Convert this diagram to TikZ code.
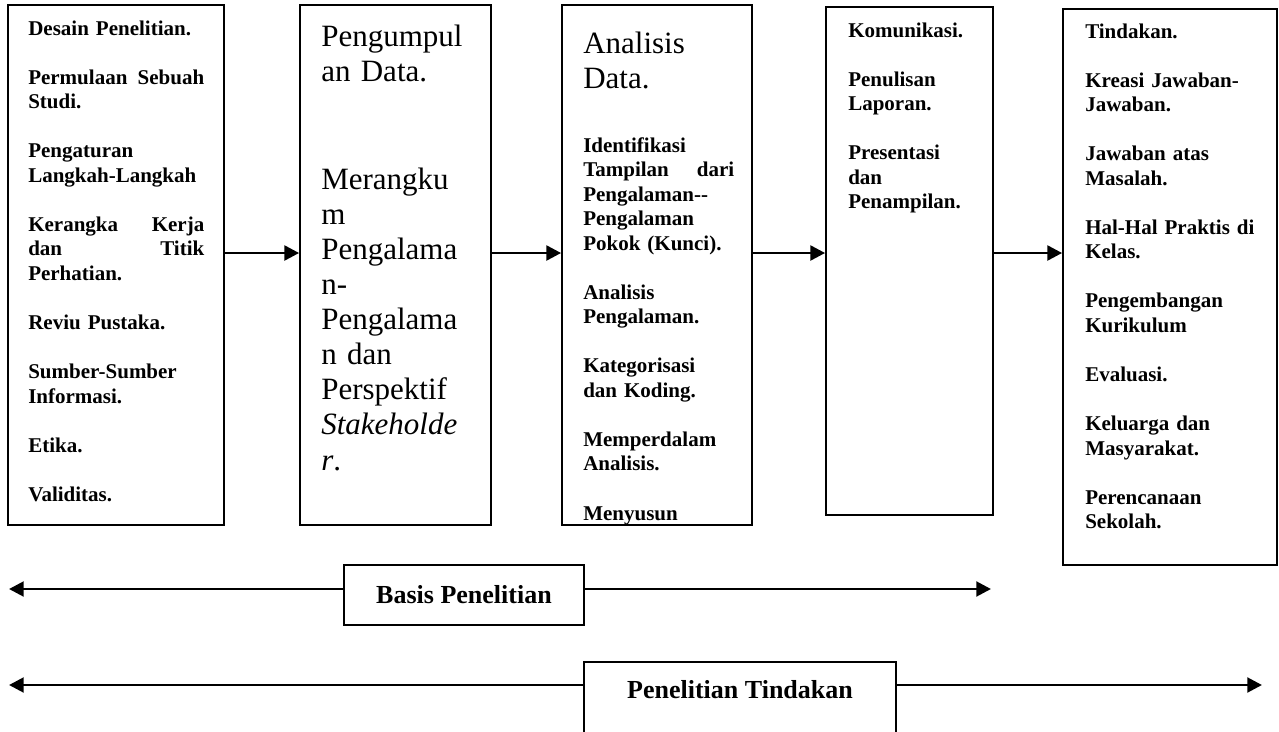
\documentclass[tikz,border=0pt]{standalone}
\usepackage{fontspec}
\setmainfont{Liberation Serif}
\usetikzlibrary{arrows.meta,fit}
% stretch a line to the full text width
\newcommand\jf{\hspace{0pt plus 1filll}}
% an empty line between two items
\newcommand\gap{\\[\baselineskip]}
\begin{document}
\begin{tikzpicture}[x=0.75pt,y=-0.75pt,
  panel/.style={draw, line width=1.3pt, inner sep=0pt},
  listtext/.style={anchor=base west, inner sep=0pt, align=left,
    font=\fontsize{15.75pt}{18.4pt}\selectfont\bfseries},
  headtext/.style={anchor=base west, inner sep=0pt, align=left,
    font=\fontsize{23.25pt}{26.3pt}\selectfont},
  label/.style={inner sep=0pt, font=\fontsize{19.5pt}{22pt}\selectfont\bfseries},
  flow/.style={line width=2.2pt, -{Triangle[length=11pt,width=11pt]}},
]
\clip (0,0) rectangle (1279,732);

% the five stages
\node[panel, fit={(8,5) (224,525)}] (b1) {};
\node[panel, fit={(300,5) (491,525)}] (b2) {};
\node[panel, fit={(562,5) (752,525)}] (b3) {};
\node[panel, fit={(826,7) (993,515)}] (b4) {};
\node[panel, fit={(1063,9) (1277,565)}] (b5) {};

\node[listtext, text width=132pt] (t1) at (28,35) {%
Desain Penelitian.\gap
Permulaan\jf Sebuah\\ Studi.\gap
Pengaturan\\ Langkah-Langkah\gap
Kerangka\jf Kerja\\ dan\jf Titik\\ Perhatian.\gap
Reviu Pustaka.\gap
Sumber-Sumber\\ Informasi.\gap
Etika.\gap
Validitas.};

\node[headtext, text width=112pt] (t2) at (321,46) {%
Pengumpul\\ an Data.\\[55pt]
Merangku\\ m\\ Pengalama\\ n-\\ Pengalama\\ n dan\\ Perspektif\\
\textit{Stakeholde}\\ \textit{r}.};

\node[headtext, text width=113pt] (h3) at (583,53) {Analisis\\ Data.};
\node[listtext, text width=113.25pt] (t3) at (583,152) {%
Identifikasi\\ Tampilan\jf dari\\ Pengalaman-{}-\\ Pengalaman\\ Pokok (Kunci).\gap
Analisis\\ Pengalaman.\gap
Kategorisasi\\ dan Koding.\gap
Memperdalam\\ Analisis.\gap
Menyusun};

\node[listtext, text width=92pt] (t4) at (848,37) {%
Komunikasi.\gap
Penulisan\\ Laporan.\gap
Presentasi\\ dan\\ Penampilan.};

\node[listtext, text width=127.5pt] (t5) at (1085,38) {%
Tindakan.\gap
Kreasi Jawaban-\\ Jawaban.\gap
Jawaban atas\\ Masalah.\gap
Hal-Hal Praktis di\\ Kelas.\gap
Pengembangan\\ Kurikulum\gap
Evaluasi.\gap
Keluarga dan\\ Masyarakat.\gap
Perencanaan\\ Sekolah.};

% flow between the stages
\coordinate (row) at (0,253);
\draw[flow] (b1.east |- row) -- (b2.west |- row);
\draw[flow] (b2.east |- row) -- (b3.west |- row);
\draw[flow] (b3.east |- row) -- (b4.west |- row);
\draw[flow] (b4.east |- row) -- (b5.west |- row);

% span of the research basis
\node[panel, fit={(344,565) (584,625)}] (basis) {};
\node[label] (basislbl) at (basis.center) {Basis Penelitian};
\coordinate (bl) at (9,589);
\coordinate (br) at (991,589);
\draw[flow] (basis.west |- bl) -- (bl);
\draw[flow] (basis.east |- br) -- (br);

% span of the action research
\node[panel, fit={(584,662) (896,760)}] (act) {};
\node[label] (actlbl) at (740,690) {Penelitian Tindakan};
\coordinate (al) at (9,685);
\coordinate (ar) at (1262,685);
\draw[flow] (act.west |- al) -- (al);
\draw[flow] (act.east |- ar) -- (ar);
\end{tikzpicture}
\end{document}
